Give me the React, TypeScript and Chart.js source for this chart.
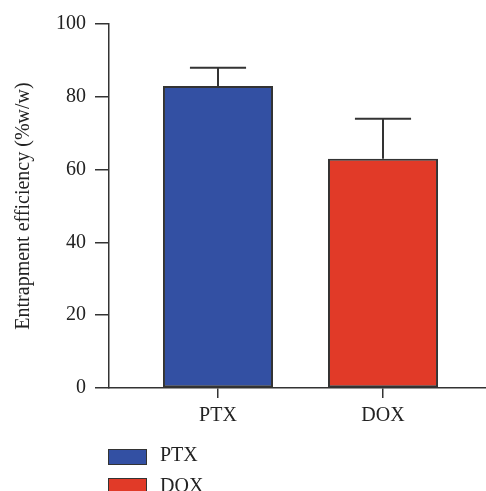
import React, { useEffect, useRef } from "react";
import { Chart, registerables } from "chart.js";

Chart.register(...registerables);

const categories = ["PTX", "DOX"];
const meanValues = [83, 63];
const errorTops = [88, 74];
const barColors = ["#3350A3", "#E13A28"];
const yTicks = [0, 20, 40, 60, 80, 100];
const yTitle = "Entrapment efficiency (%w/w)";

const FONT = "'Liberation Serif', 'Times New Roman', serif";
const AXIS = "#333333";

const errorBarPlugin = {
  id: "errorBars",
  afterDatasetsDraw(chart: any) {
    const ctx = chart.ctx;
    const meta = chart.getDatasetMeta(0);
    const yScale = chart.scales.y;
    ctx.save();
    ctx.strokeStyle = AXIS;
    ctx.lineWidth = 2;
    meta.data.forEach((bar: any, i: number) => {
      const top = yScale.getPixelForValue(errorTops[i]);
      const half = bar.width * 0.255;
      ctx.beginPath();
      ctx.moveTo(bar.x, bar.y);
      ctx.lineTo(bar.x, top);
      ctx.moveTo(bar.x - half, top);
      ctx.lineTo(bar.x + half, top);
      ctx.stroke();
    });
    ctx.restore();
  },
};

export default function App() {
  const ref = useRef<HTMLCanvasElement | null>(null);

  useEffect(() => {
    document.body.style.margin = "0";
    if (!ref.current) return;
    const chart = new Chart(ref.current, {
      type: "bar",
      data: {
        datasets: [
          {
            data: meanValues.map((v, i) => ({ x: i, y: v })),
            backgroundColor: barColors,
            borderColor: AXIS,
            borderWidth: 2,
            borderSkipped: false,
            barPercentage: 0.667,
            categoryPercentage: 1,
          },
        ],
      },
      options: {
        animation: false,
        responsive: false,
        maintainAspectRatio: false,
        layout: { padding: { top: 24, right: 0, bottom: 0, left: 0 } },
        plugins: {
          legend: { display: false },
          tooltip: { enabled: false },
        },
        scales: {
          x: {
            type: "linear",
            offset: false,
            min: -0.6606,
            max: 1.6242,
            afterBuildTicks: (axis: any) => {
              axis.ticks = categories.map((_, i) => ({ value: i }));
            },
            afterFit: (scale: any) => {
              scale.height = 103;
            },
            ticks: {
              callback: (v: any) => categories[v as number] ?? "",
              font: { family: FONT, size: 20 },
              color: "#222",
              padding: 6,
              maxRotation: 0,
            },
            grid: {
              display: true,
              offset: false,
              drawOnChartArea: false,
              drawTicks: true,
              tickLength: 10,
              color: AXIS,
              lineWidth: 1.5,
            },
            border: { display: true, color: AXIS, width: 1.5 },
          },
          y: {
            min: 0,
            max: 100,
            afterBuildTicks: (axis: any) => {
              axis.ticks = yTicks.map((v) => ({ value: v }));
            },
            afterFit: (scale: any) => {
              scale.width = 109;
            },
            ticks: {
              font: { family: FONT, size: 20 },
              color: "#222",
              padding: 9,
            },
            grid: {
              display: true,
              drawOnChartArea: false,
              drawTicks: true,
              tickLength: 14,
              color: AXIS,
              lineWidth: 1.5,
            },
            border: { display: true, color: AXIS, width: 1.5 },
            title: {
              display: true,
              text: yTitle,
              font: { family: FONT, size: 20 },
              color: "#222",
              padding: { top: 12, bottom: 0 },
            },
          },
        },
      },
      plugins: [errorBarPlugin],
    });
    return () => chart.destroy();
  }, []);

  const legendText: React.CSSProperties = {
    position: "absolute",
    left: 160,
    fontFamily: FONT,
    fontSize: 20,
    lineHeight: "20px",
    color: "#222",
    whiteSpace: "nowrap",
  };
  const legendBox = (top: number, color: string): React.CSSProperties => ({
    position: "absolute",
    left: 108,
    top,
    width: 39,
    height: 16,
    boxSizing: "border-box",
    border: `1.5px solid ${AXIS}`,
    background: color,
  });

  return (
    <div style={{ position: "relative", width: 486, height: 491, overflow: "hidden", background: "#fff" }}>
      <canvas ref={ref} width={486} height={491} style={{ display: "block" }} />
      <div style={legendBox(449, barColors[0])} />
      <div style={{ ...legendText, top: 443.7 }}>{categories[0]}</div>
      <div style={legendBox(478, barColors[1])} />
      <div style={{ ...legendText, top: 474.7 }}>{categories[1]}</div>
    </div>
  );
}
